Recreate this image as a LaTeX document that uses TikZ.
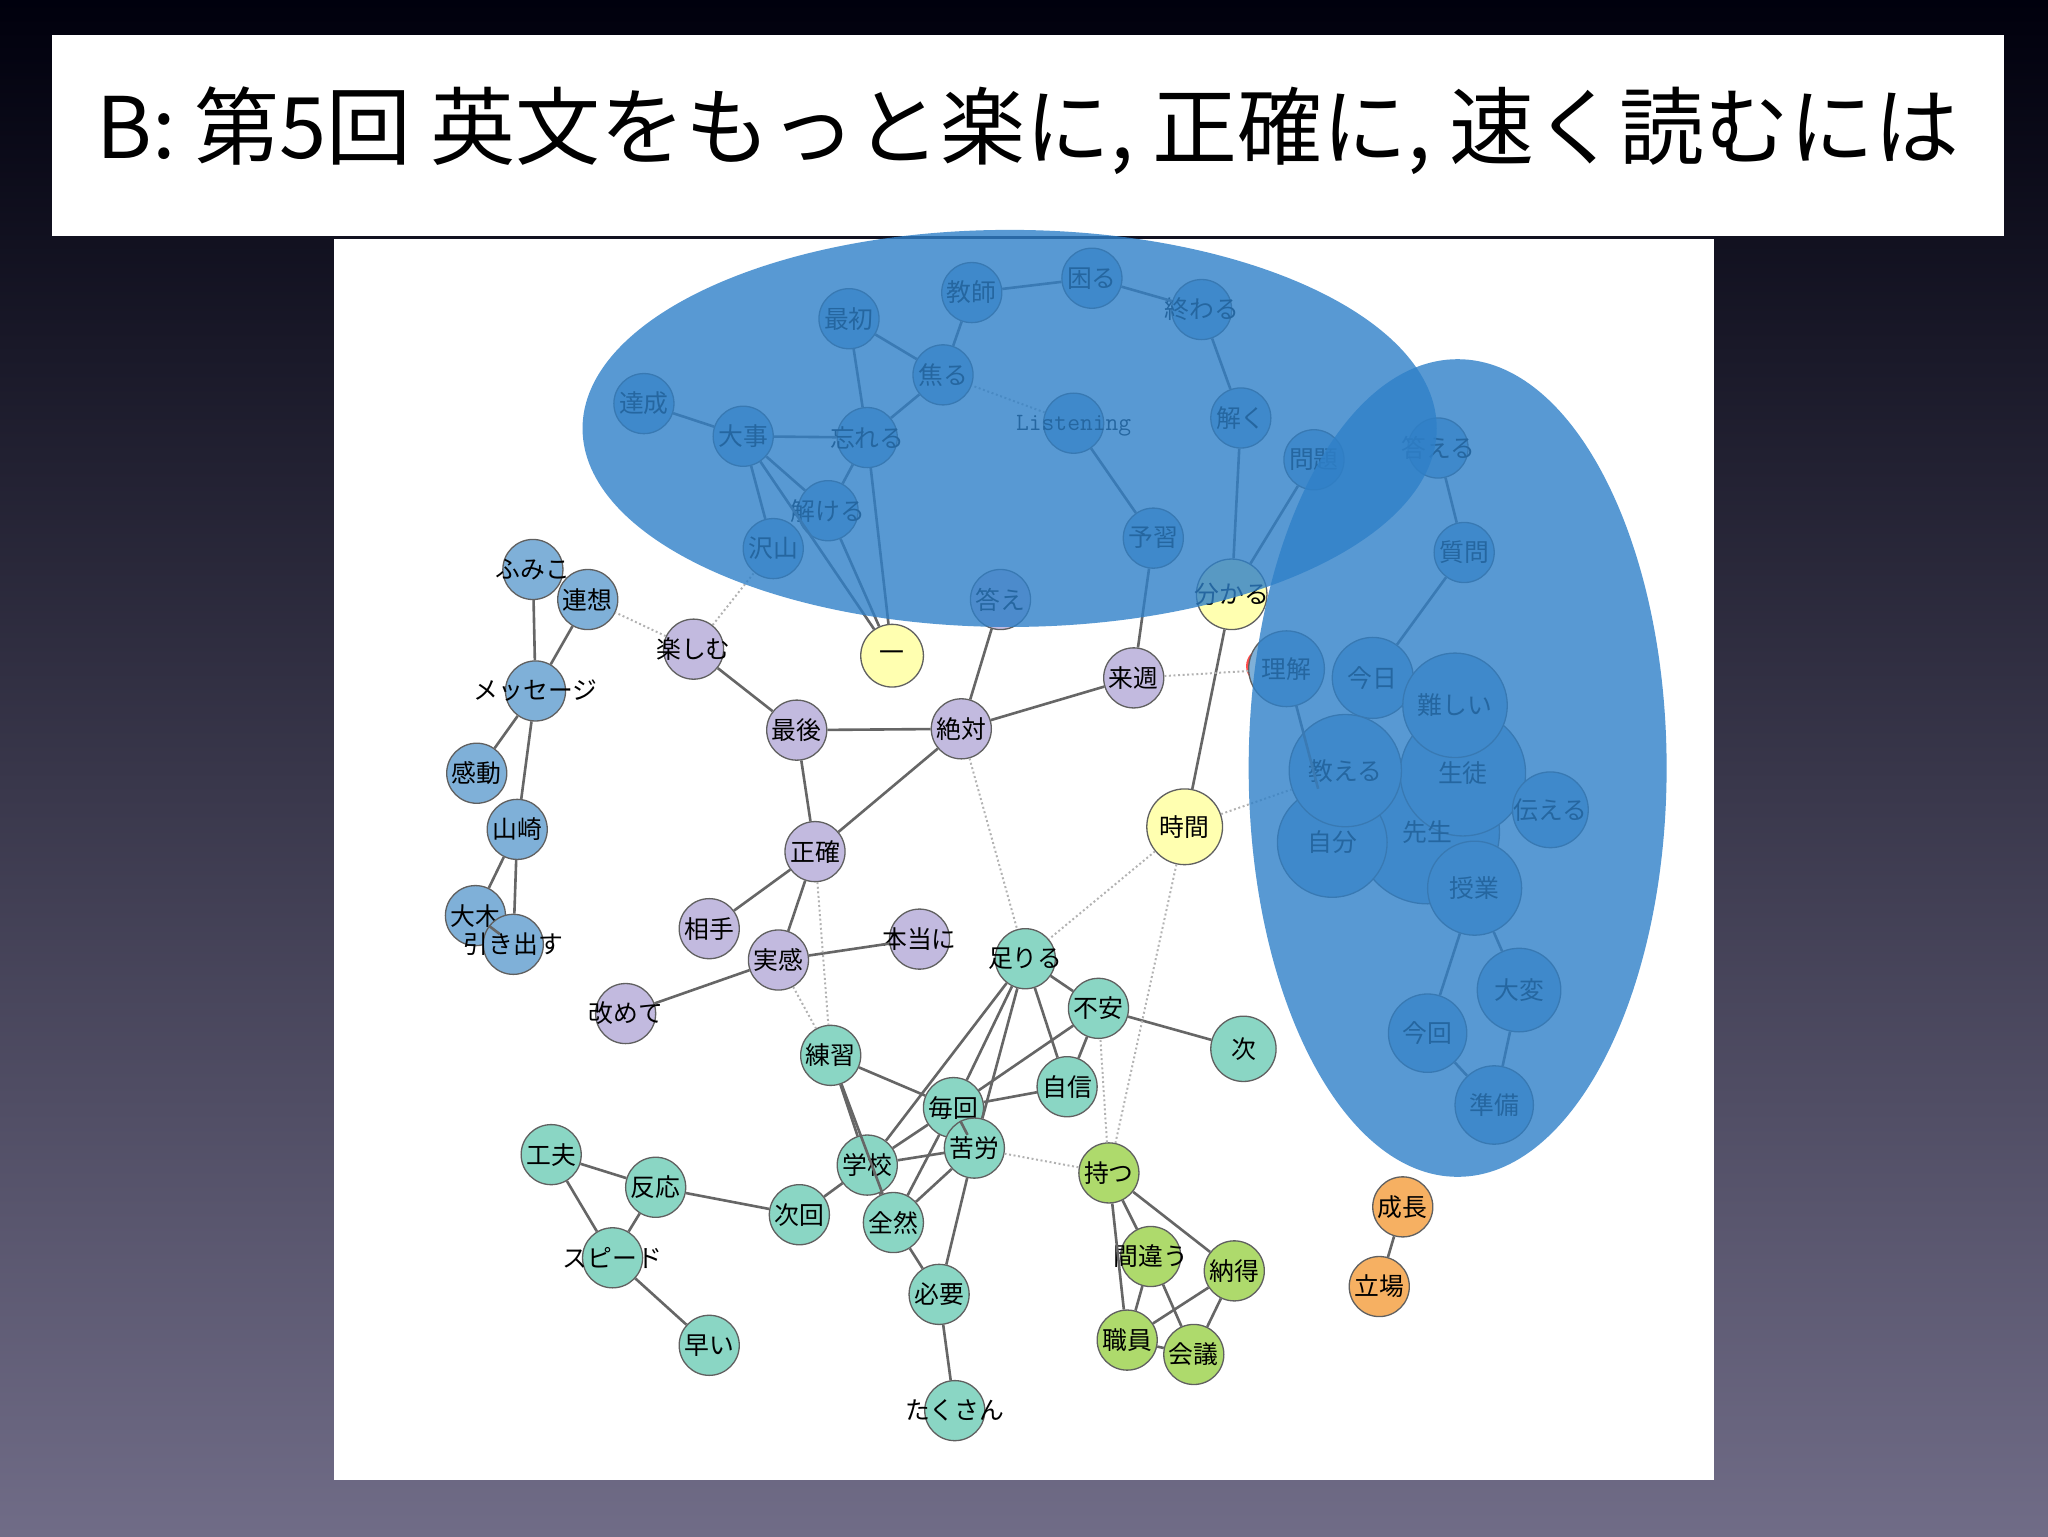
\documentclass[tikz,border=0pt]{standalone}
\usepackage{fontspec}
\setmainfont{Noto Sans CJK JP}
\usetikzlibrary{shapes.geometric}
\definecolor{cb}{HTML}{7FB0D8}
\definecolor{cl}{HTML}{C2BADF}
\definecolor{cy}{HTML}{FFFFB0}
\definecolor{ct}{HTML}{8AD6C4}
\definecolor{cg}{HTML}{AEDA6C}
\definecolor{co}{HTML}{F6B062}
\definecolor{ce}{HTML}{2F80C8}
\tikzset{
 nd/.style={circle,draw=gray!75!black,line width=1pt,fill=#1,minimum size=46pt,inner sep=0pt},
 every label/.style={font=\fontsize{19}{21}\selectfont,inner sep=0pt},
 ed/.style={draw=gray!80!black,line width=2pt},
 dt/.style={draw=gray!60,line width=1.5pt,dotted},
 el/.style={fill=ce,opacity=0.8}
}
\begin{document}
\begin{tikzpicture}[x=1pt,y=-1pt]
\shade[top color=black!95!blue,bottom color={rgb,255:red,112;green,108;blue,135}] (0,0) rectangle (1568,1176);
\useasboundingbox (0,0) rectangle (1568,1176);
\fill[white] (40,27) rectangle (1534,181);
\node (title) at (787,100) {\fontsize{65}{72}\selectfont B: 第5回 英文をもっと楽に, 正確に, 速く読むには};
\fill[white] (256,183) rectangle (1312,1133);
% top
\foreach \n/\x/\y/\t in {kyoshi/744/224/教師,komaru/836/213/困る,owaru/920/237/終わる,saisho/650/244/最初,aseru/722/287/焦る,tassei/493/309/達成,daiji/569/334/大事,wasure/664/335/忘れる,toku/950/320/解く,mondai/1006/352/問題,kotaeru/1101/343/答える,tokeru/634/391/解ける,takusan/592/420/沢山,yoshu/883/412/予習,shitsumon/1121/423/質問}
 \node[nd=cb,label={center:\t}] (\n) at (\x,\y) {};
\node[nd=cb] (listen) at (822,324) {};
\node at (822,326) {\fontsize{19}{21}\selectfont\ttfamily Listening};
\node[nd=cl,label={center:答え}] (kotae) at (766,459) {};
\node[nd=cy,minimum size=54pt,label={center:分かる}] (wakaru) at (943,455) {};
% left blue
\foreach \n/\x/\y/\t in {fumiko/408/436/ふみこ,rensou/450/459/連想,msg/410/529/メッセージ,kandou/365/592/感動,yamazaki/396/635/山崎,ooki/364/701/大木,hikidasu/393/723/引き出す}
 \node[nd=cb,label={center:\t}] (\n) at (\x,\y) {};
% lavender
\foreach \n/\x/\y/\t in {tanoshimu/531/497/楽しむ,saigo/610/559/最後,zettai/736/558/絶対,raishu/868/519/来週,seikaku/624/652/正確,aite/543/711/相手,jikkan/596/735/実感,hontou/704/719/本当に,aratamete/479/776/改めて}
 \node[nd=cl,label={center:\t}] (\n) at (\x,\y) {};
\node[nd=cy,minimum size=48pt,label={center:一}] (ichi) at (683,502) {};
\node[nd=cy,minimum size=58pt,label={center:時間}] (jikan) at (907,633) {};
% right
\fill[red!70] (968,510) circle (14pt);
\node[nd=cb,minimum size=58pt,label={center:理解}] (rikai) at (985,512) {};
\node[nd=cb,minimum size=62pt,label={center:今日}] (kyou) at (1051,519) {};
\node[nd=cb,minimum size=110pt] (sensei) at (1093,637) {};
\node[nd=cb,minimum size=96pt] (seito) at (1120,592) {};
\node[nd=cb,minimum size=84pt] (jibun) at (1020,645) {};
\node[nd=cb,minimum size=80pt] (muzu) at (1114,540) {};
\node[nd=cb,minimum size=86pt] (oshieru) at (1030,590) {};
\node[nd=cb,minimum size=58pt] (tsutaeru) at (1187,620) {};
\node[nd=cb,minimum size=72pt] (jugyo) at (1129,680) {};
\foreach \n/\t in {sensei/先生,seito/生徒,jibun/自分,muzu/難しい,oshieru/教える,tsutaeru/伝える,jugyo/授業}
 \node[font=\fontsize{19}{21}\selectfont] at (\n) {\t};
\node[nd=cb,minimum size=64pt,label={center:大変}] (taihen) at (1163,758) {};
\node[nd=cb,minimum size=60pt,label={center:今回}] (konkai) at (1093,791) {};
\node[nd=cb,minimum size=60pt,label={center:準備}] (junbi) at (1144,846) {};
% teal
\foreach \n/\x/\y/\t in {tariru/785/734/足りる,fuan/841/772/不安,jishin/817/832/自信,renshu/636/808/練習,maikai/730/848/毎回,kurou/746/879/苦労,gakkou/664/892/学校,kufuu/422/884/工夫,hannou/502/909/反応,jikai/612/930/次回,zenzen/684/936/全然,speed/469/963/スピード,hitsuyou/719/991/必要,hayai/543/1030/早い,takusan2/731/1080/たくさん}
 \node[nd=ct,label={center:\t}] (\n) at (\x,\y) {};
\node[nd=ct,minimum size=50pt,label={center:次}] (tsugi) at (952,803) {};
% green
\foreach \n/\x/\y/\t in {motsu/849/898/持つ,machigau/881/962/間違う,nattoku/945/973/納得,shokuin/863/1026/職員,kaigi/914/1037/会議}
 \node[nd=cg,label={center:\t}] (\n) at (\x,\y) {};
\node[nd=co,label={center:成長}] (seichou) at (1074,924) {};
\node[nd=co,label={center:立場}] (tachiba) at (1056,985) {};
% edges
\foreach \a/\b in {kyoshi/komaru,komaru/owaru,kyoshi/aseru,saisho/aseru,saisho/wasure,aseru/wasure,daiji/wasure,tassei/daiji,daiji/tokeru,daiji/takusan,wasure/tokeru,wasure/ichi,tokeru/ichi,daiji/ichi,owaru/toku,toku/wakaru,mondai/wakaru,listen/yoshu,yoshu/raishu,wakaru/jikan,kotaeru/shitsumon,shitsumon/kyou,kotae/zettai,raishu/zettai,tanoshimu/saigo,saigo/zettai,saigo/seikaku,zettai/seikaku,seikaku/aite,seikaku/jikkan,jikkan/hontou,jikkan/aratamete,fumiko/msg,rensou/msg,msg/kandou,msg/yamazaki,yamazaki/ooki,yamazaki/hikidasu,ooki/hikidasu,rikai/jibun,jugyo/konkai,jugyo/taihen,taihen/junbi,konkai/junbi,tariru/maikai,tariru/kurou,tariru/gakkou,tariru/jishin,tariru/fuan,fuan/tsugi,fuan/jishin,fuan/maikai,renshu/maikai,renshu/gakkou,maikai/kurou,maikai/gakkou,maikai/zenzen,kurou/gakkou,kurou/zenzen,kurou/hitsuyou,gakkou/jikai,gakkou/zenzen,jikai/hannou,zenzen/hitsuyou,kufuu/hannou,kufuu/speed,hannou/speed,speed/hayai,hitsuyou/takusan2,jishin/maikai,motsu/machigau,motsu/nattoku,machigau/shokuin,machigau/kaigi,nattoku/shokuin,nattoku/kaigi,shokuin/kaigi,motsu/shokuin,seichou/tachiba,renshu/zenzen}
 \draw[ed] (\a) -- (\b);
\foreach \a/\b in {tanoshimu/rensou,tanoshimu/takusan,listen/aseru,zettai/tariru,jikan/tariru,jikan/oshieru,raishu/rikai,seikaku/renshu,jikkan/renshu,kurou/motsu,motsu/fuan,jikan/motsu}
 \draw[dt] (\a) -- (\b);
% ellipses
\fill[el] (773,328) ellipse [x radius=327pt, y radius=152pt];
\fill[el] (1116,588) ellipse [x radius=160pt, y radius=313pt];
\end{tikzpicture}
\end{document}
